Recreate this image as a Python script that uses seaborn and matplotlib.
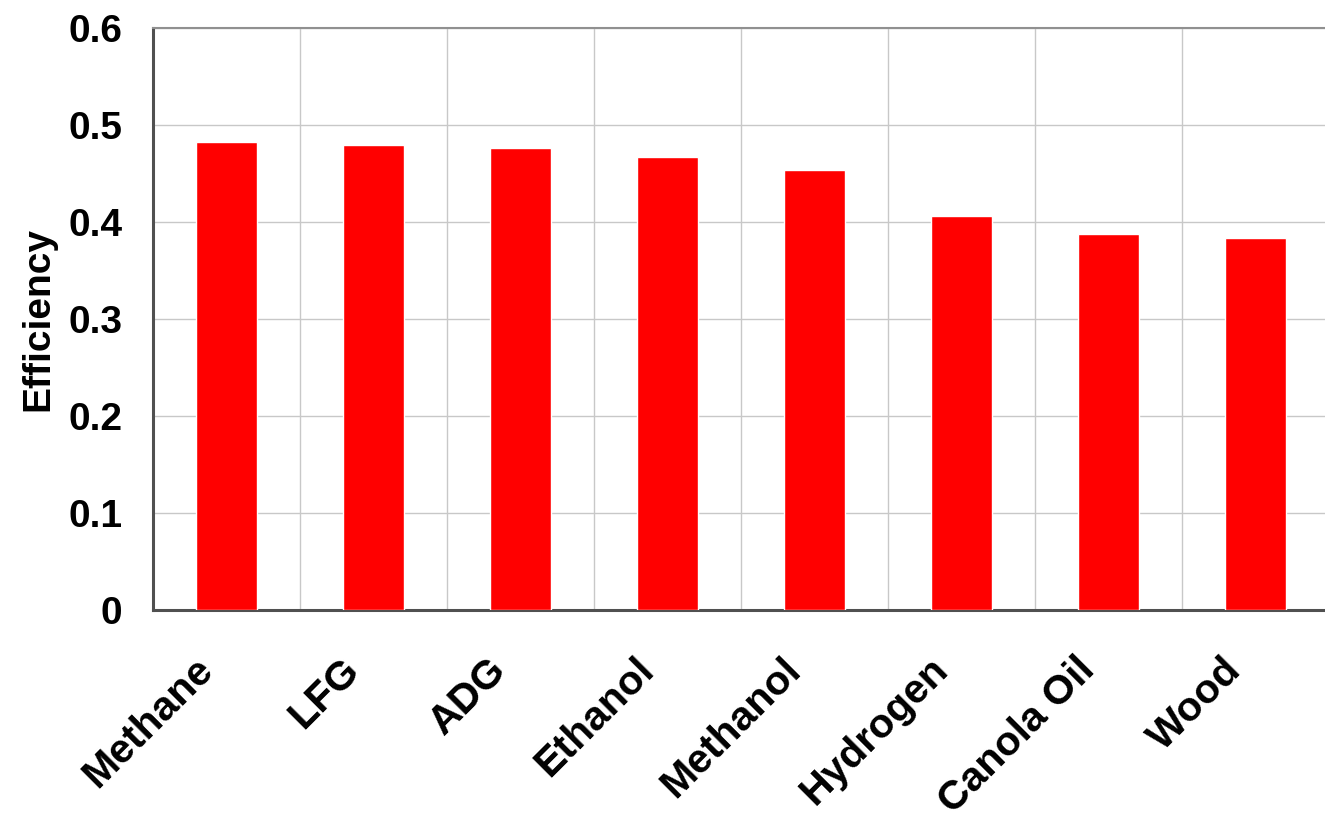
import matplotlib
matplotlib.use("Agg")
import matplotlib.pyplot as plt
import matplotlib.transforms as mtransforms
import seaborn as sns
import numpy as np
import pandas as pd

# chart data
fuels = ["Methane", "LFG", "ADG", "Ethanol", "Methanol", "Hydrogen", "Canola Oil", "Wood"]
efficiency = [0.482, 0.479, 0.476, 0.467, 0.454, 0.406, 0.388, 0.384]
y_ticks = [0, 0.1, 0.2, 0.3, 0.4, 0.5, 0.6]
y_tick_labels = ["0", "0.1", "0.2", "0.3", "0.4", "0.5", "0.6"]

sns.set_style("white")
plt.rcParams['font.family'] = ['Liberation Sans', 'DejaVu Sans']
plt.rcParams['font.weight'] = 'bold'
plt.rcParams['text.color'] = 'black'
plt.rcParams['xtick.color'] = 'black'
plt.rcParams['ytick.color'] = 'black'
plt.rcParams['axes.labelcolor'] = 'black'

df = pd.DataFrame({"fuel": fuels, "eff": efficiency})

fig = plt.figure(figsize=(13.25, 8.17), dpi=100)
ax = fig.add_axes([153/1325, (817-610)/817, 1176/1325, (610-28)/817])

sns.barplot(data=df, x="fuel", y="eff", color="#ff0000", width=0.42,
            saturation=1, ax=ax, zorder=3)

ax.set_xlim(-0.5, 7.5)
ax.set_ylim(0, 0.6)
ax.set_yticks(y_ticks)
ax.set_yticklabels(y_tick_labels, fontsize=28, fontweight='bold', color='black')

# gridlines: horizontal at values, vertical at category boundaries
n = len(fuels)
ax.set_xticks(np.arange(-0.5, n, 1.0), minor=True)
ax.grid(axis='y', which='major', color='#c8c8c8', linewidth=1.0, zorder=0)
ax.grid(axis='x', which='minor', color='#c8c8c8', linewidth=1.0, zorder=0)
ax.grid(axis='x', which='major', visible=False)
ax.set_axisbelow(True)

ax.tick_params(axis='x', which='major', length=0, pad=10)
ax.tick_params(axis='x', which='minor', length=9, width=1.2, color='black', direction='out')
ax.tick_params(axis='y', which='major', length=9, width=1.2, color='black', direction='out', pad=13)

ax.set_xticks(np.arange(n))
ax.set_xticklabels(fuels, fontsize=29.5, fontweight='bold', rotation=45, color='black',
                   ha='right', rotation_mode='anchor', va='center')
offset = mtransforms.ScaledTranslation(-20/100, -40/100, fig.dpi_scale_trans)
for lab in ax.get_xticklabels():
    lab.set_transform(lab.get_transform() + offset)

ax.set_xlabel("")
ax.set_ylabel("Efficiency", fontsize=28, fontweight='bold', color='black')
ax.yaxis.set_label_coords(-(153-56)/1176, 0.5)

for side in ["left", "bottom"]:
    ax.spines[side].set_color('#505050')
    ax.spines[side].set_linewidth(2.2)
ax.spines["top"].set_color('#909090')
ax.spines["top"].set_linewidth(1.5)
ax.spines["right"].set_visible(False)

fig.savefig("out.png", dpi=100)
